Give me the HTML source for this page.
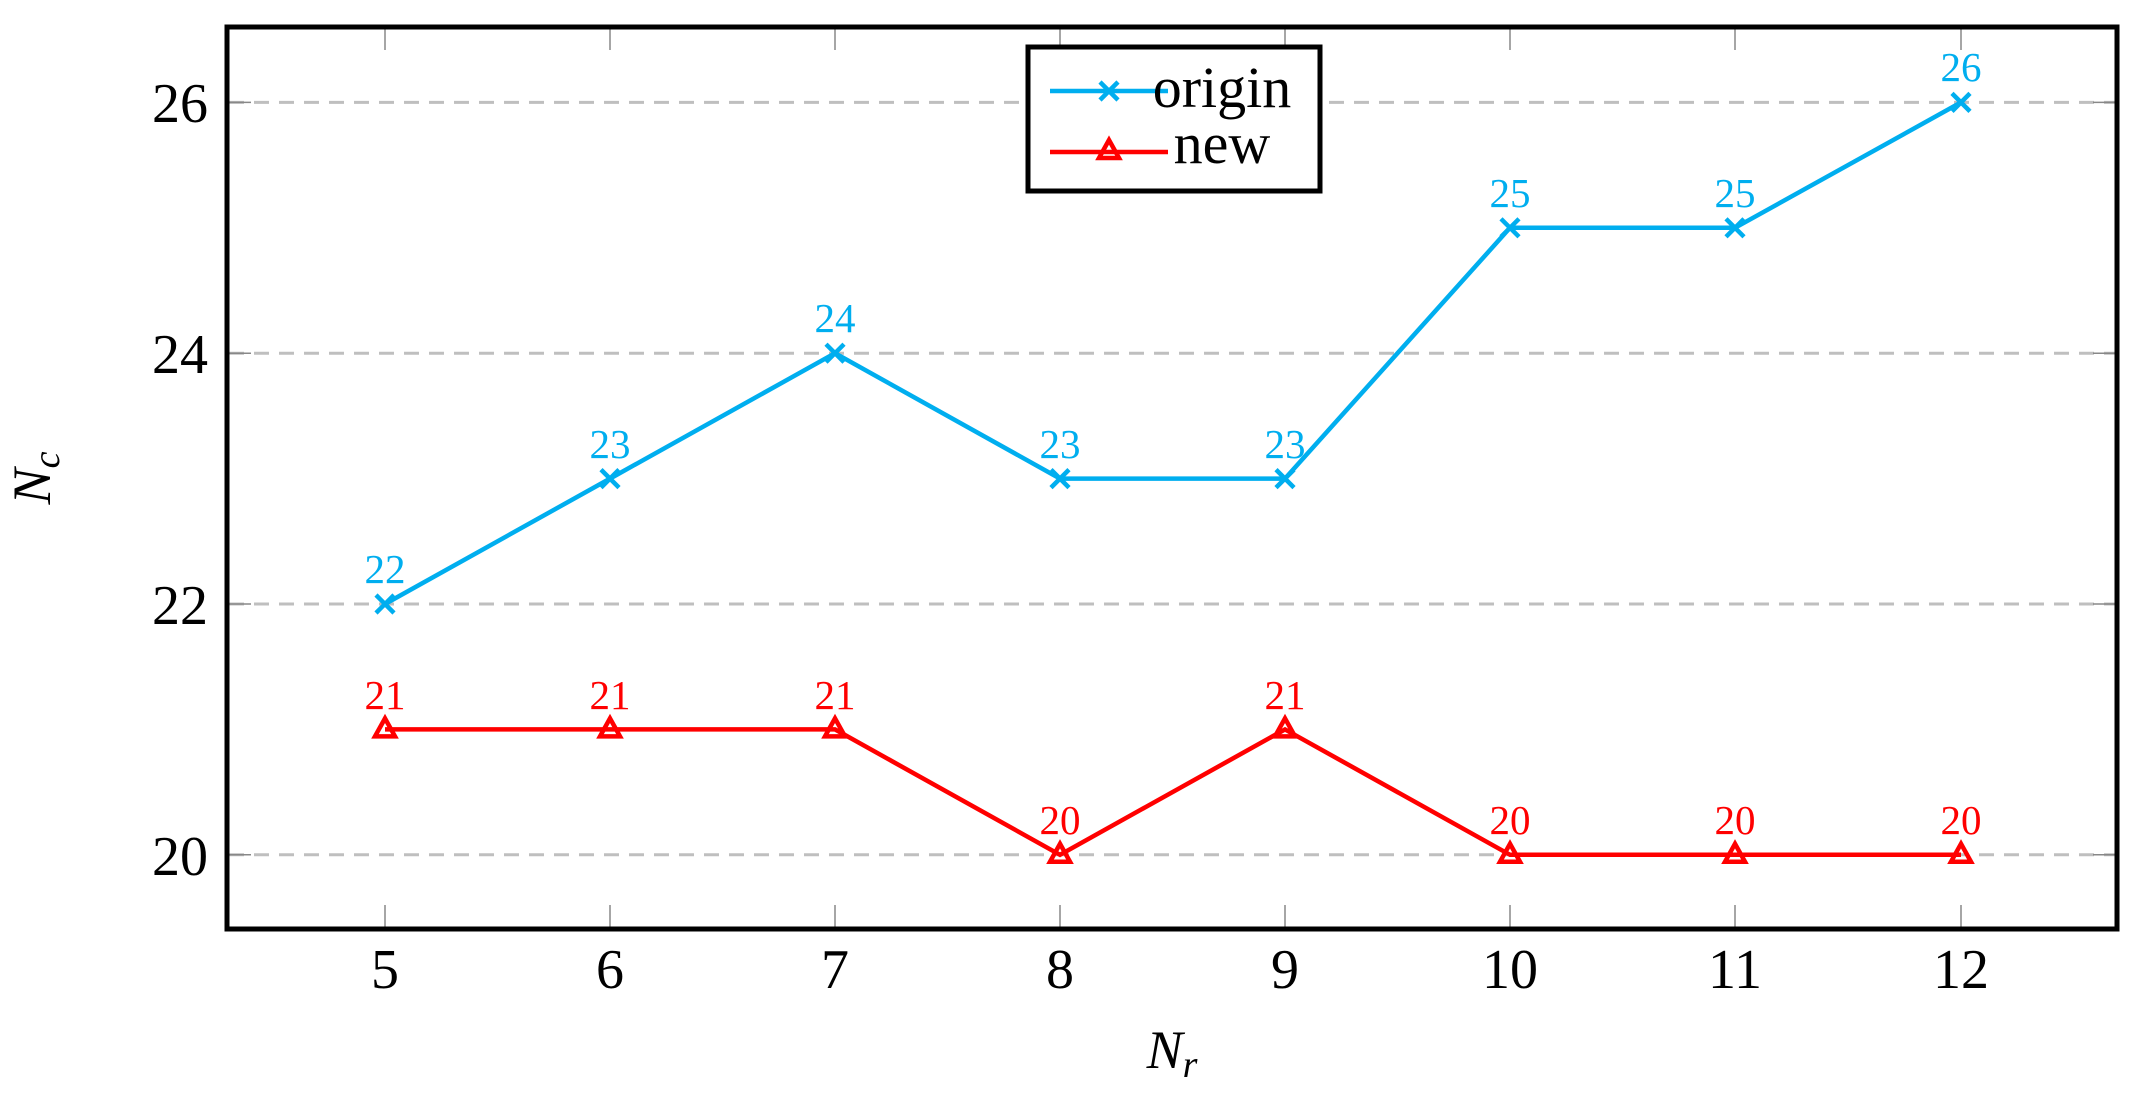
<!DOCTYPE html>
<html><head><meta charset="utf-8"><style>html,body{margin:0;padding:0;background:#fff}</style></head>
<body>
<svg width="2135" height="1091" viewBox="0 0 2135 1091" xmlns="http://www.w3.org/2000/svg" font-family="Liberation Serif, serif">
<g stroke="#bfbfbf" stroke-width="3" stroke-dasharray="15,10">
<line x1="229" y1="102.4" x2="2115" y2="102.4"/>
<line x1="229" y1="353.2" x2="2115" y2="353.2"/>
<line x1="229" y1="604" x2="2115" y2="604"/>
<line x1="229" y1="854.8" x2="2115" y2="854.8"/>
</g>
<g stroke="#888" stroke-width="1.5">
<line x1="229" y1="102.4" x2="251" y2="102.4"/><line x1="2093" y1="102.4" x2="2115" y2="102.4"/>
<line x1="229" y1="353.2" x2="251" y2="353.2"/><line x1="2093" y1="353.2" x2="2115" y2="353.2"/>
<line x1="229" y1="604" x2="251" y2="604"/><line x1="2093" y1="604" x2="2115" y2="604"/>
<line x1="229" y1="854.8" x2="251" y2="854.8"/><line x1="2093" y1="854.8" x2="2115" y2="854.8"/>
<line x1="385" y1="28" x2="385" y2="50"/><line x1="385" y1="905" x2="385" y2="927"/>
<line x1="610" y1="28" x2="610" y2="50"/><line x1="610" y1="905" x2="610" y2="927"/>
<line x1="835" y1="28" x2="835" y2="50"/><line x1="835" y1="905" x2="835" y2="927"/>
<line x1="1060" y1="28" x2="1060" y2="50"/><line x1="1060" y1="905" x2="1060" y2="927"/>
<line x1="1285" y1="28" x2="1285" y2="50"/><line x1="1285" y1="905" x2="1285" y2="927"/>
<line x1="1510" y1="28" x2="1510" y2="50"/><line x1="1510" y1="905" x2="1510" y2="927"/>
<line x1="1735" y1="28" x2="1735" y2="50"/><line x1="1735" y1="905" x2="1735" y2="927"/>
<line x1="1961" y1="28" x2="1961" y2="50"/><line x1="1961" y1="905" x2="1961" y2="927"/>
</g>
<polyline fill="none" stroke="#00aeef" stroke-width="4.5" points="385,604 610,478.6 835,353.2 1060,478.6 1285,478.6 1510,227.8 1735,227.8 1961,102.4"/>
<polyline fill="none" stroke="#ff0000" stroke-width="4.5" points="385,729.4 610,729.4 835,729.4 1060,854.8 1285,729.4 1510,854.8 1735,854.8 1961,854.8"/>
<g stroke="#00aeef" stroke-width="4.5">
<path d="M376,595l18,18M394,595l-18,18"/><path d="M601,469.6l18,18M619,469.6l-18,18"/><path d="M826,344.2l18,18M844,344.2l-18,18"/><path d="M1051,469.6l18,18M1069,469.6l-18,18"/><path d="M1276,469.6l18,18M1294,469.6l-18,18"/><path d="M1501,218.8l18,18M1519,218.8l-18,18"/><path d="M1726,218.8l18,18M1744,218.8l-18,18"/><path d="M1952,93.4l18,18M1970,93.4l-18,18"/>
</g>
<g fill="none" stroke="#ff0000" stroke-width="4.5">
<path d="M385,718.4l-10,18h20z"/><path d="M610,718.4l-10,18h20z"/><path d="M835,718.4l-10,18h20z"/><path d="M1060,843.8l-10,18h20z"/><path d="M1285,718.4l-10,18h20z"/><path d="M1510,843.8l-10,18h20z"/><path d="M1735,843.8l-10,18h20z"/><path d="M1961,843.8l-10,18h20z"/>
</g>
<g font-size="41" fill="#00aeef" text-anchor="middle">
<text x="385" y="583">22</text><text x="610" y="458">23</text><text x="835" y="332">24</text><text x="1060" y="458">23</text><text x="1285" y="458">23</text><text x="1510" y="207">25</text><text x="1735" y="207">25</text><text x="1961" y="81">26</text>
</g>
<g font-size="41" fill="#ff0000" text-anchor="middle">
<text x="385" y="709">21</text><text x="610" y="709">21</text><text x="835" y="709">21</text><text x="1060" y="834">20</text><text x="1285" y="709">21</text><text x="1510" y="834">20</text><text x="1735" y="834">20</text><text x="1961" y="834">20</text>
</g>
<rect x="227" y="27" width="1890" height="902" fill="none" stroke="#000" stroke-width="5"/>
<rect x="1028" y="47" width="292" height="144" fill="#fff" stroke="#000" stroke-width="5"/>
<line x1="1050" y1="91" x2="1168" y2="91" stroke="#00aeef" stroke-width="4.5"/>
<path d="M1100,82l18,18M1118,82l-18,18" stroke="#00aeef" stroke-width="4.5"/>
<line x1="1050" y1="152" x2="1168" y2="152" stroke="#ff0000" stroke-width="4.5"/>
<path d="M1109,140l-10,18h20z" fill="none" stroke="#ff0000" stroke-width="4.5"/>
<g font-size="58" text-anchor="middle">
<text x="1222" y="107">origin</text><text x="1222" y="163">new</text>
</g>
<g font-size="56" text-anchor="end">
<text x="208" y="122">26</text><text x="208" y="373">24</text><text x="208" y="624">22</text><text x="208" y="875">20</text>
</g>
<g font-size="56" text-anchor="middle">
<text x="385" y="988">5</text><text x="610" y="988">6</text><text x="835" y="988">7</text><text x="1060" y="988">8</text><text x="1285" y="988">9</text><text x="1510" y="988">10</text><text x="1735" y="988">11</text><text x="1961" y="988">12</text>
</g>
<text x="1172" y="1068" font-size="54" font-style="italic" text-anchor="middle">N<tspan font-size="38" dy="9">r</tspan></text>
<text transform="translate(50,478) rotate(-90)" font-size="54" font-style="italic" text-anchor="middle">N<tspan font-size="38" dy="9">c</tspan></text>
</svg>
</body></html>
